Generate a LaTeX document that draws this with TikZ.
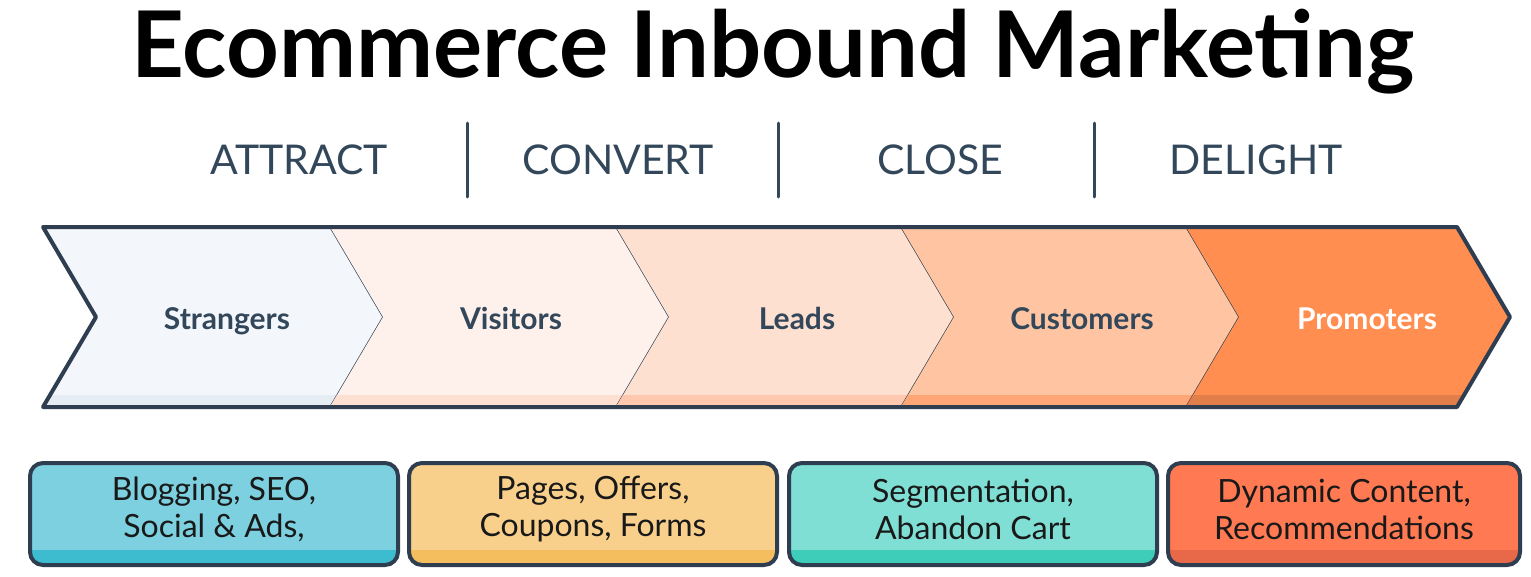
\documentclass[tikz,border=0pt]{standalone}
\usepackage{fontspec}
\setmainfont{Lato}
\usetikzlibrary{calc}
\definecolor{ink}{HTML}{33475B}
\definecolor{frame}{HTML}{2E3E50}
\definecolor{cA}{HTML}{F3F6FA}\definecolor{sA}{HTML}{E6ECF3}
\definecolor{cB}{HTML}{FEF1EB}\definecolor{sB}{HTML}{FDE0D2}
\definecolor{cC}{HTML}{FEE0D1}\definecolor{sC}{HTML}{FDC8AD}
\definecolor{cD}{HTML}{FFC4A2}\definecolor{sD}{HTML}{FFA676}
\definecolor{cE}{HTML}{FF8E50}\definecolor{sE}{HTML}{E27E49}
\definecolor{bA}{HTML}{7DD0DF}\definecolor{tA}{HTML}{3EBCCF}
\definecolor{bB}{HTML}{F8D08C}\definecolor{tB}{HTML}{F4BE5E}
\definecolor{bC}{HTML}{7FDFD4}\definecolor{tC}{HTML}{3ECDB9}
\definecolor{bD}{HTML}{FF7A52}\definecolor{tD}{HTML}{E8684A}
\tikzset{
  stagelabel/.style={text=ink, font=\fontsize{41}{41}\selectfont, inner sep=0pt},
  chevlabel/.style={text=ink, font=\fontsize{30}{30}\selectfont\bfseries, inner sep=0pt, anchor=base},
  boxlabel/.style={text=black!90, font=\fontsize{32}{37}\selectfont, align=center, inner sep=0pt},
  divider/.style={draw=ink, line width=3pt, line cap=round},
}
\newcommand{\chevseg}[4]{% left, right, fill, strip
  \begin{scope}
    \clip (#1,227) -- (#2,227) -- (#2+53,317) -- (#2,407) -- (#1,407) -- (#1+53,317) -- cycle;
    \fill[#3] (#1-10,220) rectangle (#2+60,410);
    \fill[#4] (#1-10,395) rectangle (#2+60,410);
  \end{scope}
  \draw[frame, line width=1.3pt, line join=round] (#2,227) -- (#2+53,317) -- (#2,407);
}
\newcommand{\toolbox}[5]{% left,right,fill,strip,name
  \begin{scope}
    \clip[rounded corners=13pt] (#1,463) rectangle (#2,565);
    \fill[#3] (#1,463) rectangle (#2,565);
    \fill[#4] (#1,550) rectangle (#2,565);
  \end{scope}
  \draw[frame, line width=4pt, rounded corners=13pt] (#1,463) rectangle (#2,565);
  \coordinate (#5) at ({(#1+#2)/2},509);
}
\begin{document}
\begin{tikzpicture}[x=1pt,y=-1pt]
\useasboundingbox (0,0) rectangle (1531,576);
\fill[white] (0,0) rectangle (1531,576);
% title
\node[inner sep=0pt, anchor=base, font=\fontsize{92}{92}\selectfont\bfseries] (title) at (773,77) {Ecommerce Inbound Marketing};
% stages
\node[stagelabel] (attract) at (299,160) {ATTRACT};
\node[stagelabel] (convert) at (618,160) {CONVERT};
\node[stagelabel] (close) at (940,160) {CLOSE};
\node[stagelabel] (delight) at (1256,160) {DELIGHT};
\draw[divider] (467,123) -- (467,197);
\draw[divider] (778,123) -- (778,197);
\draw[divider] (1094,123) -- (1094,197);
% chevrons
\chevseg{43}{330}{cA}{sA}
\chevseg{330}{616}{cB}{sB}
\chevseg{616}{901}{cC}{sC}
\chevseg{901}{1186}{cD}{sD}
\chevseg{1186}{1457}{cE}{sE}
\draw[frame, line width=4pt, line join=round] (43,227) -- (1457,227) -- (1510,317) -- (1457,407) -- (43,407) -- (96,317) -- cycle;
\node[chevlabel] (strangers) at (227,329) {Strangers};
\node[chevlabel] (visitors) at (511,329) {Visitors};
\node[chevlabel] (leads) at (797,329) {Leads};
\node[chevlabel] (customers) at (1082,329) {Customers};
\node[chevlabel, text=white] (promoters) at (1367,329) {Promoters};
% boxes
\toolbox{30}{398}{bA}{tA}{boxA}
\toolbox{409}{777}{bB}{tB}{boxB}
\toolbox{789}{1157}{bC}{tC}{boxC}
\toolbox{1168}{1520}{bD}{tD}{boxD}
\node[boxlabel] (textA) at (boxA) {Blogging, SEO,\\Social \& Ads,};
\node[boxlabel] (textB) at (boxB) {Pages, Offers,\\Coupons, Forms};
\node[boxlabel] (textC) at (boxC) {Segmentation,\\Abandon Cart};
\node[boxlabel] (textD) at (boxD) {Dynamic Content,\\Recommendations};
\end{tikzpicture}
\end{document}
